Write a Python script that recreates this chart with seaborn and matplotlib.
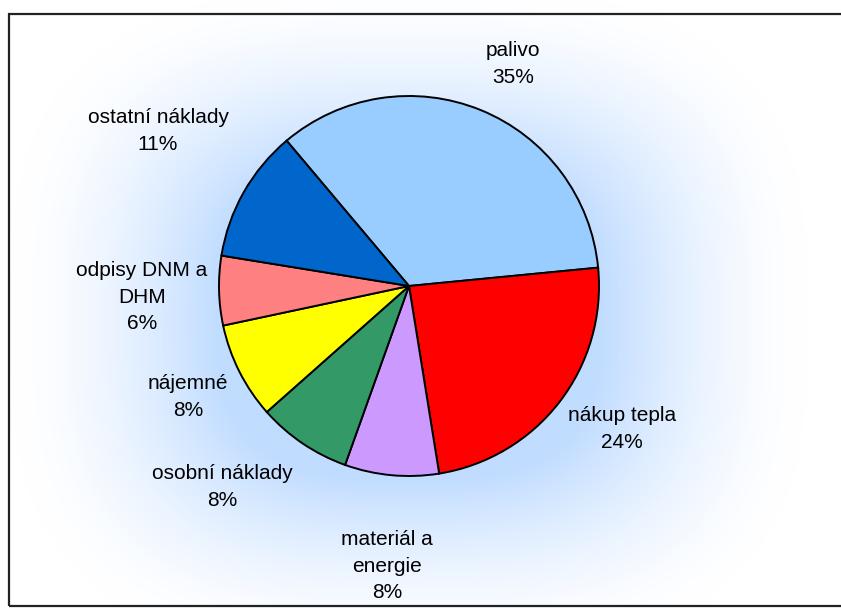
import numpy as np
import matplotlib
matplotlib.use("Agg")
import matplotlib.pyplot as plt
import seaborn as sns
from matplotlib.patches import Rectangle

# data
categories = ["palivo", "nákup tepla", "materiál a\nenergie", "osobní náklady",
              "nájemné", "odpisy DNM a\nDHM", "ostatní náklady"]
shares = [34.6, 24.0, 8.0, 8.0, 8.2, 5.9, 11.3]
colors = ["#99CCFF", "#FF0000", "#CC99FF", "#339966", "#FFFF00", "#FF8080", "#0066CC"]

# label positions (in pie radii, relative to pie centre)
label_pos = [(0.548, 1.168), (1.121, -0.753), (-0.116, -1.474), (-0.984, -1.058),
             (-1.163, -0.584), (-1.405, -0.058), (-1.321, 0.816)]

sns.set_theme(style="white")
plt.rcParams['font.family'] = ['Liberation Sans', 'DejaVu Sans']

W, H = 841, 608
cx, cy, R = 409, 286, 190
fig = plt.figure(figsize=(W / 100, H / 100), dpi=100)
ax = fig.add_axes([0, 0, 1, 1])
x0, x1 = -cx / R, (W - cx) / R
y0, y1 = (cy - H) / R, cy / R

# soft blue glow behind the pie
gx, gy = np.meshgrid(np.linspace(x0, x1, 400), np.linspace(y1, y0, 300))
p = 3.0
r = (np.abs(gx) ** p + np.abs(1.2 * (gy + 0.18)) ** p) ** (1 / p)
t = np.clip((r - 1.0) / 1.1, 0, 1)
k = (1 - t) ** 1.6
base = np.array([192, 220, 255]) / 255.0
img = 1 - k[..., None] * (1 - base)
ax.imshow(img, extent=[x0, x1, y0, y1], origin="upper", zorder=0, aspect="auto",
          interpolation="bilinear")

wedges, _ = ax.pie(shares, colors=colors, startangle=130.1, counterclock=False,
                   radius=1, center=(0, 0),
                   wedgeprops=dict(edgecolor="black", linewidth=1.4))
for w in wedges:
    w.set_zorder(2)

for name, val, (lx, ly) in zip(categories, shares, label_pos):
    ax.text(lx, ly, f"{name}\n{round(val)}%", ha="center", va="center", fontsize=15,
            color="black", linespacing=1.52, zorder=3)

ax.set_xlim(x0, x1)
ax.set_ylim(y0, y1)
ax.set_aspect("equal")
ax.axis("off")

fig.patches.append(Rectangle((9 / W, 2 / H), 1.0, (606 - 14) / H, transform=fig.transFigure,
                             fill=False, edgecolor="#222222", linewidth=1.6, zorder=5))

fig.savefig("out.png", dpi=100)
